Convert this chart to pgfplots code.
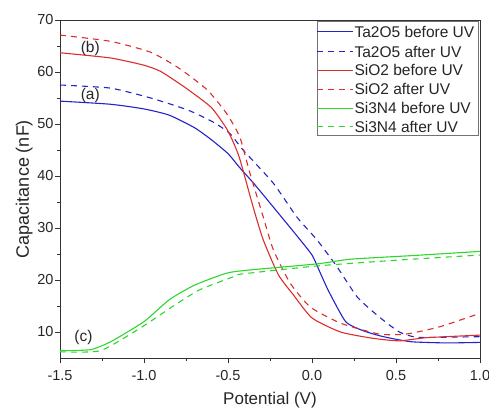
\documentclass[border=0pt]{standalone}
\usepackage{pgfplots}
\pgfplotsset{compat=1.18}
\usepackage{fontspec}
\setmainfont{Liberation Sans}
\definecolor{cblue}{RGB}{35,35,200}
\definecolor{cred}{RGB}{220,45,45}
\definecolor{cgreen}{RGB}{45,215,45}
\begin{document}
\begin{tikzpicture}
\useasboundingbox (-60bp,-53bp) rectangle (429bp,358bp);
\begin{axis}[
  at={(0,0)}, anchor=south west,
  scale only axis, width=420bp, height=338bp,
  xmin=-1.5, xmax=1.0, ymin=5, ymax=70,
  xtick={-1.5,-1.0,-0.5,0.0,0.5,1.0},
  xticklabels={-1.5,-1.0,-0.5,0.0,0.5,1.0},
  ytick={10,20,30,40,50,60,70},
  minor x tick num=1, minor y tick num=1,
  tick align=outside, tick pos=left,
  major tick length=5bp, minor tick length=3bp,
  tick style={black!80, line width=0.8pt},
  axis line style={black!80, line width=0.9pt},
  /pgf/number format/assume math mode=true,
  tick label style={font=\fontsize{14.5bp}{16bp}\selectfont, black!85},
  xticklabel style={yshift=-4bp},
  yticklabel style={xshift=2bp},
  xlabel style={font=\fontsize{17bp}{19bp}\selectfont, black!85, yshift=-5bp},
  ylabel style={font=\fontsize{18bp}{20bp}\selectfont, black!85, yshift=-2bp},
  xlabel={Potential (V)}, ylabel={Capacitance (nF)},
  clip=false,
  every axis plot/.append style={line width=1.1pt, smooth, tension=0.35},
  ta/.style={cblue}, sio/.style={cred}, sin/.style={cgreen},
  after/.style={dash pattern=on 6bp off 5bp},
]
% Ta2O5
\addplot[ta] coordinates {(-1.5,54.4) (-1.2,53.8) (-1.0,52.9) (-0.85,51.7) (-0.7,49.3) (-0.6,47.0) (-0.5,44.3) (-0.43,41.6) (-0.35,38.7) (-0.25,34.8) (-0.1,28.9) (0.0,24.8) (0.05,21.3) (0.1,17.8) (0.2,12.0) (0.3,10.3) (0.4,9.3) (0.5,8.6) (0.6,8.1) (0.8,7.9) (1.0,8.0)};
\addplot[ta, after] coordinates {(-1.5,57.5) (-1.2,56.9) (-0.96,55.0) (-0.74,52.7) (-0.59,50.4) (-0.49,48.2) (-0.41,45.0) (-0.23,38.6) (-0.09,32.1) (0.03,27.7) (0.15,22.5) (0.27,16.7) (0.40,12.9) (0.52,10.0) (0.62,9.0) (0.8,9.0) (1.0,9.1)};
% SiO2
\addplot[sio] coordinates {(-1.5,63.7) (-1.2,62.7) (-1.0,61.3) (-0.9,60.1) (-0.75,56.9) (-0.6,53.2) (-0.51,49.2) (-0.47,46.6) (-0.43,43.3) (-0.35,34.0) (-0.29,27.7) (-0.2,21.0) (-0.11,17.1) (0.0,12.7) (0.17,10.0) (0.36,8.8) (0.52,8.3) (0.68,8.9) (1.0,9.4)};
\addplot[sio, after] coordinates {(-1.5,67.1) (-1.2,65.9) (-0.96,63.8) (-0.79,60.7) (-0.625,56.6) (-0.51,52.1) (-0.43,47.5) (-0.37,40.6) (-0.29,32.1) (-0.23,25.8) (-0.13,19.4) (-0.01,14.8) (0.17,11.7) (0.40,9.6) (0.56,9.6) (0.76,11.0) (1.0,13.6)};
% Si3N4
\addplot[sin] coordinates {(-1.5,6.4) (-1.32,6.6) (-1.2,8.1) (-1.0,12.0) (-0.85,16.2) (-0.7,19.0) (-0.51,21.3) (-0.38,21.9) (0.03,23.1) (0.23,24.0) (0.6,24.7) (1.0,25.5)};
\addplot[sin, after] coordinates {(-1.5,6.2) (-1.26,6.4) (-1.02,10.8) (-0.83,14.9) (-0.67,18.1) (-0.47,20.6) (-0.43,21.1) (0.03,22.7) (0.5,23.8) (1.0,24.8)};
% --- legend box ---
\draw[black!55, line width=0.5pt, fill=white] (axis cs:0.03,69.8) rectangle (axis cs:0.99,47.9);
\draw[cblue, line width=1.1pt] (axis cs:0.03,67.75) -- (axis cs:0.244,67.75);
\draw[cblue, line width=1.1pt, dash pattern=on 6bp off 5bp] (axis cs:0.03,63.9) -- (axis cs:0.244,63.9);
\draw[cred, line width=1.1pt] (axis cs:0.03,60.3) -- (axis cs:0.244,60.3);
\draw[cred, line width=1.1pt, dash pattern=on 6bp off 5bp] (axis cs:0.03,56.7) -- (axis cs:0.244,56.7);
\draw[cgreen, line width=1.1pt] (axis cs:0.03,53.0) -- (axis cs:0.244,53.0);
\draw[cgreen, line width=1.1pt, dash pattern=on 6bp off 5bp] (axis cs:0.03,49.5) -- (axis cs:0.244,49.5);
\begin{scope}[every node/.style={anchor=west, inner xsep=1bp, font=\fontsize{15.5bp}{17bp}\selectfont, black!85}]
\node at (axis cs:0.246,67.75) {Ta2O5 before UV};
\node at (axis cs:0.246,63.9) {Ta2O5 after UV};
\node at (axis cs:0.246,60.3) {SiO2 before UV};
\node at (axis cs:0.246,56.7) {SiO2 after UV};
\node at (axis cs:0.246,53.0) {Si3N4 before UV};
\node at (axis cs:0.246,49.5) {Si3N4 after UV};
\end{scope}
\node[font=\fontsize{15.5bp}{17bp}\selectfont, black!85] at (axis cs:-1.32,64.6) {(b)};
\node[font=\fontsize{15.5bp}{17bp}\selectfont, black!85] at (axis cs:-1.32,55.4) {(a)};
\node[font=\fontsize{15.5bp}{17bp}\selectfont, black!85] at (axis cs:-1.36,8.9) {(c)};
\end{axis}
\end{tikzpicture}
\end{document}
